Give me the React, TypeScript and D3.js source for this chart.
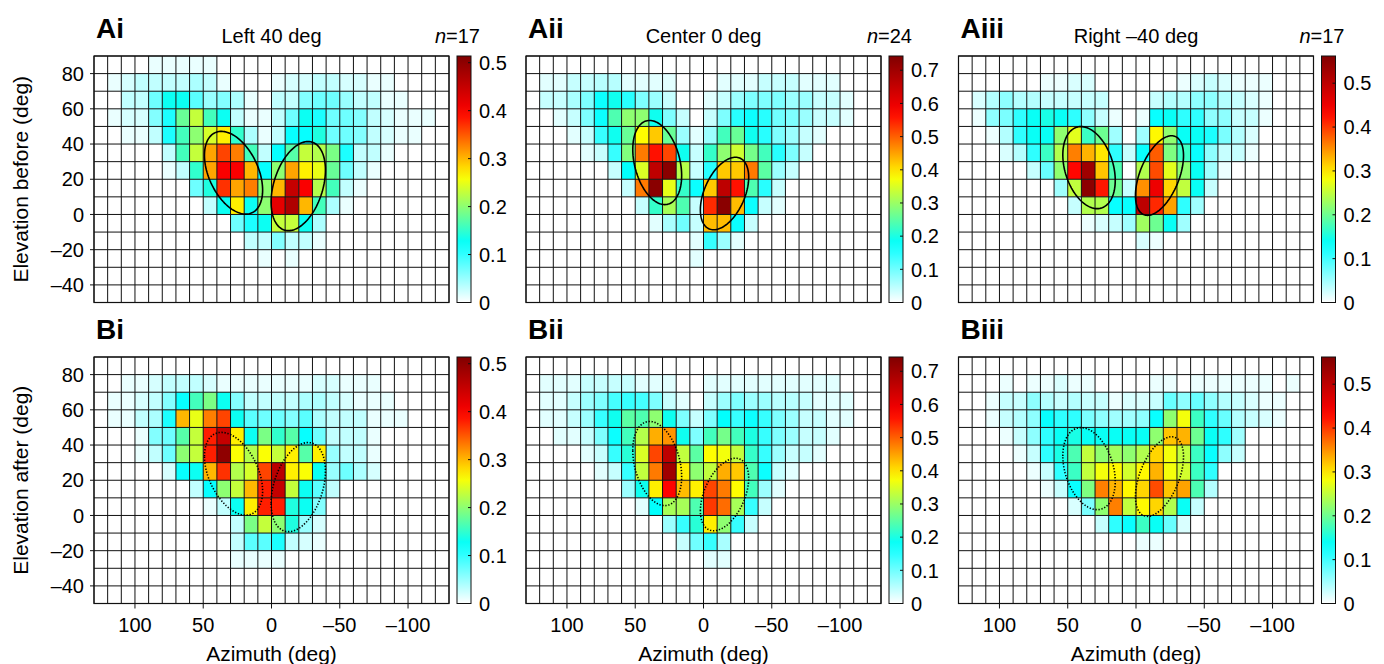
import React from 'react';
import * as d3 from 'd3';

// bin centres (deg)
const azBins = [125, 115, 105, 95, 85, 75, 65, 55, 45, 35, 25, 15, 5, -5, -15, -25, -35, -45, -55, -65, -75, -85, -95, -105, -115, -125];
const elBins = [85, 75, 65, 55, 45, 35, 25, 15, 5, -5, -15, -25, -35, -45];
const azTicks = [100, 50, 0, -50, -100];
const elTicks = [80, 60, 40, 20, 0, -20, -40];

// response probability x100, rows top (85) to bottom (-45), columns left (125) to right (-125)
const aiData = [
  [0,0,0,0,1,1,1,1,1,0,0,0,0,0,0,0,0,0,0,0,0,0,0,0,0,0],
  [0,1,2,3,3,3,3,4,3,1,0,0,0,1,2,2,3,3,2,2,1,1,0,0,0,0],
  [0,0,3,3,7,13,13,8,5,6,4,1,0,3,3,6,7,7,5,3,3,1,1,0,0,0],
  [0,1,2,2,6,11,18,23,16,13,3,1,1,3,7,13,11,7,7,6,3,2,1,1,1,0],
  [0,0,1,1,3,11,16,20,24,27,15,4,1,3,12,12,14,7,7,6,3,2,1,1,0,0],
  [0,0,0,0,0,3,16,23,31,36,33,16,3,12,17,23,22,19,11,3,3,1,0,0,0,0],
  [0,0,0,0,0,1,3,15,31,40,40,30,12,20,31,27,25,18,7,3,1,0,0,0,0,0],
  [0,0,0,0,0,0,0,7,14,37,31,33,20,30,45,40,22,16,3,1,0,0,0,0,0,0],
  [0,0,0,0,0,0,0,0,3,13,27,13,20,42,47,30,16,4,1,0,0,0,0,0,0,0],
  [0,0,0,0,0,0,0,0,0,0,7,11,13,23,23,13,4,0,0,0,0,0,0,0,0,0],
  [0,0,0,0,0,0,0,0,0,0,0,3,3,6,3,3,1,0,0,0,0,0,0,0,0,0],
  [0,0,0,0,0,0,0,0,0,0,0,0,1,0,1,0,0,0,0,0,0,0,0,0,0,0],
  [0,0,0,0,0,0,0,0,0,0,0,0,0,0,0,0,0,0,0,0,0,0,0,0,0,0],
  [0,0,0,0,0,0,0,0,0,0,0,0,0,0,0,0,0,0,0,0,0,0,0,0,0,0],
];
const aiiData = [
  [0,0,0,0,0,0,0,0,0,0,0,0,0,0,0,0,0,0,0,0,0,0,0,0,0,0],
  [0,2,2,4,4,5,5,2,2,2,2,0,0,0,2,2,2,4,4,4,2,2,2,0,0,0],
  [0,4,4,6,9,17,19,15,9,7,4,0,0,2,4,7,9,9,9,7,7,4,4,2,0,0],
  [0,0,2,4,9,17,24,29,29,19,9,4,0,4,9,15,17,15,10,9,7,4,4,2,0,0],
  [0,0,0,2,4,14,19,26,38,42,26,7,2,7,23,26,19,15,9,7,4,2,0,0,0,0],
  [0,0,0,0,2,4,14,28,48,56,52,19,4,22,29,34,27,23,15,9,4,0,0,0,0,0],
  [0,0,0,0,0,0,4,18,35,66,73,32,4,15,42,42,48,25,7,4,0,0,0,0,0,0],
  [0,0,0,0,0,0,0,4,48,73,36,22,17,42,66,56,24,15,4,0,0,0,0,0,0,0],
  [0,0,0,0,0,0,0,0,4,22,31,24,4,54,73,43,17,4,2,0,0,0,0,0,0,0],
  [0,0,0,0,0,0,0,0,0,2,6,10,4,43,43,17,4,0,0,0,0,0,0,0,0,0],
  [0,0,0,0,0,0,0,0,0,0,0,0,2,14,7,2,0,0,0,0,0,0,0,0,0,0],
  [0,0,0,0,0,0,0,0,0,0,0,0,2,0,0,0,0,0,0,0,0,0,0,0,0,0],
  [0,0,0,0,0,0,0,0,0,0,0,0,0,0,0,0,0,0,0,0,0,0,0,0,0,0],
  [0,0,0,0,0,0,0,0,0,0,0,0,0,0,0,0,0,0,0,0,0,0,0,0,0,0],
];
const aiiiData = [
  [0,0,0,0,0,0,0,0,0,0,0,0,0,0,0,0,0,0,0,0,0,0,0,0,0,0],
  [0,0,0,0,0,0,1,1,2,2,0,0,0,0,0,0,1,2,3,2,1,1,1,0,0,0],
  [0,2,4,6,4,4,3,3,3,3,3,0,0,0,3,4,4,6,6,4,3,2,1,0,0,0],
  [0,1,6,7,11,14,15,14,11,6,3,1,0,1,13,14,11,11,6,6,3,3,1,0,0,0],
  [0,0,1,4,11,14,14,22,27,17,20,5,0,5,29,22,14,14,12,7,4,2,0,0,0,0],
  [0,0,0,2,4,11,17,24,36,33,30,11,3,13,38,21,17,13,6,3,3,1,0,0,0,0],
  [0,0,0,0,0,3,8,22,43,53,32,18,0,24,39,27,22,14,5,1,0,0,0,0,0,0],
  [0,0,0,0,0,0,0,5,25,55,42,20,3,35,45,31,25,14,3,0,0,0,0,0,0,0],
  [0,0,0,0,0,0,0,0,3,24,24,13,13,50,41,34,11,5,0,0,0,0,0,0,0,0],
  [0,0,0,0,0,0,0,0,0,1,2,3,5,23,20,14,5,0,0,0,0,0,0,0,0,0],
  [0,0,0,0,0,0,0,0,0,0,0,0,0,2,1,0,0,0,0,0,0,0,0,0,0,0],
  [0,0,0,0,0,0,0,0,0,0,0,0,0,0,0,0,0,0,0,0,0,0,0,0,0,0],
  [0,0,0,0,0,0,0,0,0,0,0,0,0,0,0,0,0,0,0,0,0,0,0,0,0,0],
  [0,0,0,0,0,0,0,0,0,0,0,0,0,0,0,0,0,0,0,0,0,0,0,0,0,0],
];
const biData = [
  [0,0,0,0,0,0,0,0,0,0,0,0,0,0,0,0,0,0,0,0,0,0,0,0,0,0],
  [0,0,1,1,2,3,3,3,2,1,1,1,1,1,1,1,2,2,1,1,1,0,0,0,0,0],
  [0,1,1,2,3,6,12,16,19,13,6,3,3,3,3,4,4,3,2,1,1,1,0,0,0,0],
  [0,1,1,3,4,11,30,25,33,36,13,8,7,7,6,8,4,3,3,3,1,1,1,0,0,0],
  [0,0,0,1,6,7,17,23,38,45,27,13,19,15,17,12,7,3,3,3,1,0,0,0,0,0],
  [0,0,0,1,3,7,20,23,38,50,26,22,26,23,27,17,27,5,3,3,1,0,0,0,0,0],
  [0,0,0,0,0,2,12,13,30,37,22,24,36,46,27,26,13,5,7,4,2,0,0,0,0,0],
  [0,0,0,0,0,0,0,3,12,20,23,30,38,45,23,13,8,3,0,0,0,0,0,0,0,0],
  [0,0,0,0,0,0,0,0,1,3,13,27,38,38,14,13,6,0,0,0,0,0,0,0,0,0],
  [0,0,0,0,0,0,0,0,0,0,3,19,23,20,14,5,2,0,0,0,0,0,0,0,0,0],
  [0,0,0,0,0,0,0,0,0,0,3,8,8,11,3,2,1,0,0,0,0,0,0,0,0,0],
  [0,0,0,0,0,0,0,0,0,0,1,1,1,1,0,0,0,0,0,0,0,0,0,0,0,0],
  [0,0,0,0,0,0,0,0,0,0,0,0,0,0,0,0,0,0,0,0,0,0,0,0,0,0],
  [0,0,0,0,0,0,0,0,0,0,0,0,0,0,0,0,0,0,0,0,0,0,0,0,0,0],
];
const biiData = [
  [0,0,0,0,0,0,0,0,0,0,0,0,0,0,0,0,0,0,0,0,0,0,0,0,0,0],
  [0,2,2,2,4,4,4,4,2,2,2,0,0,2,2,2,2,2,2,2,2,2,2,0,0,0],
  [0,2,2,4,7,9,13,14,13,9,4,2,0,4,7,9,7,7,5,5,4,2,2,2,0,0],
  [0,2,2,4,7,14,19,25,24,29,19,9,4,9,18,14,17,14,9,7,4,4,2,2,0,0],
  [0,0,2,2,4,9,17,23,32,44,46,19,9,23,27,23,20,14,9,7,4,4,2,0,0,0],
  [0,0,0,0,2,4,14,21,35,52,66,33,25,38,37,33,22,14,7,4,4,2,0,0,0,0],
  [0,0,0,0,0,2,4,14,33,48,70,39,29,33,44,42,24,17,4,2,0,0,0,0,0,0],
  [0,0,0,0,0,0,0,7,19,39,57,43,39,52,48,38,23,7,2,0,0,0,0,0,0,0],
  [0,0,0,0,0,0,0,0,2,18,31,31,24,53,49,31,14,4,0,0,0,0,0,0,0,0],
  [0,0,0,0,0,0,0,0,0,0,7,14,21,39,29,14,4,0,0,0,0,0,0,0,0,0],
  [0,0,0,0,0,0,0,0,0,0,0,4,10,14,6,0,0,0,0,0,0,0,0,0,0,0],
  [0,0,0,0,0,0,0,0,0,0,0,0,0,2,2,0,0,0,0,0,0,0,0,0,0,0],
  [0,0,0,0,0,0,0,0,0,0,0,0,0,0,0,0,0,0,0,0,0,0,0,0,0,0],
  [0,0,0,0,0,0,0,0,0,0,0,0,0,0,0,0,0,0,0,0,0,0,0,0,0,0],
];
const biiiData = [
  [0,0,0,0,0,0,0,0,0,0,0,0,0,0,0,0,0,0,0,0,0,0,0,0,0,0],
  [0,0,0,1,0,1,1,2,1,1,0,0,0,0,1,1,0,1,1,1,1,1,1,0,1,0],
  [0,0,1,3,3,6,4,3,4,3,3,1,2,2,3,8,6,8,6,4,3,2,1,1,0,0],
  [0,0,1,3,4,6,13,11,11,7,6,5,5,6,13,22,28,17,11,8,4,3,2,1,0,0],
  [0,0,0,1,3,6,11,14,15,14,14,14,14,14,22,32,33,20,14,11,5,0,0,0,0,0],
  [0,0,0,0,1,3,11,15,18,25,22,23,22,24,31,28,25,17,13,6,3,0,0,0,0,0],
  [0,0,0,0,0,1,3,11,17,25,28,29,26,29,33,28,26,17,11,0,0,0,0,0,0,0],
  [0,0,0,0,0,0,1,3,13,21,36,33,29,31,39,32,34,18,4,0,0,0,0,0,0,0],
  [0,0,0,0,0,0,0,0,2,7,22,36,25,29,31,24,14,3,0,0,0,0,0,0,0,0],
  [0,0,0,0,0,0,0,0,0,0,3,11,13,17,14,8,2,0,0,0,0,0,0,0,0,0],
  [0,0,0,0,0,0,0,0,0,0,0,0,0,1,1,0,0,0,0,0,0,0,0,0,0,0],
  [0,0,0,0,0,0,0,0,0,0,0,0,0,0,0,0,0,0,0,0,0,0,0,0,0,0],
  [0,0,0,0,0,0,0,0,0,0,0,0,0,0,0,0,0,0,0,0,0,0,0,0,0,0],
  [0,0,0,0,0,0,0,0,0,0,0,0,0,0,0,0,0,0,0,0,0,0,0,0,0,0],
];

// colour scale maxima and ticks per condition
const cbMax = [0.514, 0.743, 0.562];
const cbTicks = [
  [0, 0.1, 0.2, 0.3, 0.4, 0.5],
  [0, 0.1, 0.2, 0.3, 0.4, 0.5, 0.6, 0.7],
  [0, 0.1, 0.2, 0.3, 0.4, 0.5],
];
const titles = ['Left 40 deg', 'Center 0 deg', 'Right \u201340 deg'];
const nSubjects = [17, 24, 17];

// fitted ellipses before adaptation (centre, half-extent, correlation)
const leftFits = [
  { az: 27.8, el: 23.7, rAz: 21.3, rEl: 23.5, rho: 0.42 },
  { az: 33.9, el: 29.5, rAz: 17.9, rEl: 23.9, rho: 0.31 },
  { az: 34.4, el: 26.6, rAz: 19.2, rEl: 23.3, rho: 0.31 },
];
const rightFits = [
  { az: -19.6, el: 16.1, rAz: 19.9, rEl: 25.3, rho: -0.36 },
  { az: -15.4, el: 11.9, rAz: 17.7, rEl: 20.6, rho: -0.45 },
  { az: -17.2, el: 22.1, rAz: 17.6, rEl: 22.6, rho: -0.5 },
];

const W = 355;
const H = 246.5;
const lefts = [94, 526, 958.5];
const tops = [56, 357];
const FONT = '"Liberation Sans", Arial, Helvetica, sans-serif';

const cmap = d3.scaleLinear<string>()
  .domain([0, 0.24, 0.51, 0.77, 1])
  .range(['#ffffff', '#00ffff', '#ffff00', '#ff0000', '#800000'])
  .clamp(true);

const fmt = (v: number) => (v < 0 ? `\u2013${-v}` : `${v}`);

const x = d3.scaleLinear().domain([130, -130]).range([0, W]);
const y = d3.scaleLinear().domain([90, -50]).range([0, H]);

const ellipse = (f: any) => {
  const pts = d3.range(0, 121).map(i => {
    const t = (i / 120) * 2 * Math.PI;
    return [
      f.az + f.rAz * Math.cos(t),
      f.el + f.rEl * (f.rho * Math.cos(t) + Math.sqrt(1 - f.rho * f.rho) * Math.sin(t)),
    ] as [number, number];
  });
  return d3.line().x(d => x(d[0])).y(d => y(d[1]))(pts) || '';
};

const Panel = ({ col, row, data }: { col: number; row: number; data: number[][] }) => {
  const left = lefts[col];
  const top = tops[row];
  const max = cbMax[col];
  const cb = d3.scaleLinear().domain([0, max]).range([H, 0]);
  const azEdges = azBins.map(a => a + 5).concat([azBins[azBins.length - 1] - 5]);
  const elEdges = elBins.map(e => e + 5).concat([elBins[elBins.length - 1] - 5]);
  const label = (row === 0 ? 'A' : 'B') + ['i', 'ii', 'iii'][col];

  return (
    <g>
      <text x={left + 2} y={top - 18} fontSize={28} fontWeight="bold" fontFamily={FONT}>{label}</text>
      {row === 0 && (
        <>
          <text x={left + W / 2} y={top - 13} fontSize={20} textAnchor="middle" fontFamily={FONT}>{titles[col]}</text>
          <text x={left + 386} y={top - 13} fontSize={20} textAnchor="end" fontFamily={FONT}>
            <tspan fontStyle="italic">n</tspan>={nSubjects[col]}
          </text>
        </>
      )}
      <g transform={`translate(${left},${top})`}>
        {data.map((r, i) => r.map((v, j) => (
          <rect key={`${i}-${j}`}
            x={x(azBins[j] + 5)} y={y(elBins[i] + 5)}
            width={x(azBins[j] - 5) - x(azBins[j] + 5)} height={y(elBins[i] - 5) - y(elBins[i] + 5)}
            fill={v > 0 ? cmap(v / 100 / max) : '#ffffff'} />
        )))}
        {azEdges.map(a => <line key={`v${a}`} x1={x(a)} x2={x(a)} y1={0} y2={H} stroke="#111" strokeWidth={1} />)}
        {elEdges.map(e => <line key={`h${e}`} x1={0} x2={W} y1={y(e)} y2={y(e)} stroke="#111" strokeWidth={1} />)}
        <rect x={0} y={0} width={W} height={H} fill="none" stroke="#111" strokeWidth={1.2} />
        {[leftFits[col], rightFits[col]].map((f, k) => (
          <path key={k} d={ellipse(f)} fill="none" stroke="#000"
            strokeWidth={1.6}
            strokeDasharray={row === 0 ? undefined : '1.3 1.7'} />
        ))}
        {col === 0 && elTicks.map(t => (
          <g key={`yt${t}`}>
            <line x1={-4} x2={0} y1={y(t)} y2={y(t)} stroke="#111" />
            <text x={-10} y={y(t)} dy="0.36em" fontSize={20} textAnchor="end" fontFamily={FONT}>{fmt(t)}</text>
          </g>
        ))}
        {row === 1 && azTicks.map(t => (
          <g key={`xt${t}`}>
            <line x1={x(t)} x2={x(t)} y1={H} y2={H + 5} stroke="#111" />
            <text x={x(t)} y={H + 28} fontSize={20} textAnchor="middle" fontFamily={FONT}>{fmt(t)}</text>
          </g>
        ))}
        {row === 1 && (
          <text x={W / 2} y={H + 57} fontSize={21} textAnchor="middle" fontFamily={FONT}>Azimuth (deg)</text>
        )}
        <g transform={`translate(${363},0)`}>
          <rect x={0} y={0} width={14} height={H} fill="url(#cbgrad)" stroke="#111" strokeWidth={1} />
          {cbTicks[col].map(t => (
            <g key={`c${t}`}>
              <line x1={11} x2={14} y1={cb(t)} y2={cb(t)} stroke="#111" />
              <text x={22} y={cb(t)} dy="0.36em" fontSize={20} fontFamily={FONT}>{t}</text>
            </g>
          ))}
        </g>
      </g>
      {col === 0 && (
        <text transform={`translate(28,${top + H / 2}) rotate(-90)`} fontSize={21} textAnchor="middle" fontFamily={FONT}>
          {row === 0 ? 'Elevation before (deg)' : 'Elevation after (deg)'}
        </text>
      )}
    </g>
  );
};

export default function App() {
  const stops = d3.range(0, 1.0001, 0.05);
  const panels = [
    { col: 0, row: 0, data: aiData },
    { col: 1, row: 0, data: aiiData },
    { col: 2, row: 0, data: aiiiData },
    { col: 0, row: 1, data: biData },
    { col: 1, row: 1, data: biiData },
    { col: 2, row: 1, data: biiiData },
  ];
  return (
    <svg width={1384} height={664} style={{ position: 'absolute', left: 0, top: 0, background: '#fff' }}>
      <defs>
        <linearGradient id="cbgrad" x1="0" y1="1" x2="0" y2="0">
          {stops.map(s => <stop key={s} offset={s} stopColor={cmap(s)} />)}
        </linearGradient>
      </defs>
      <rect width={1384} height={664} fill="#fff" />
      {panels.map(p => <Panel key={`${p.row}${p.col}`} {...p} />)}
    </svg>
  );
}
